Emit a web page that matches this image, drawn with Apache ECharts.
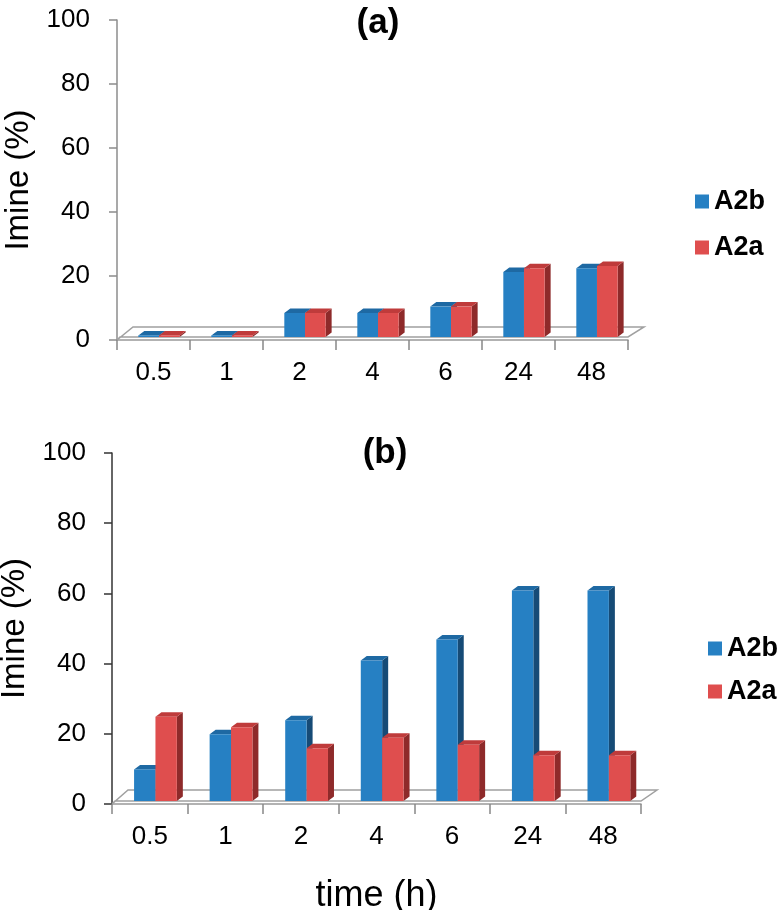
<!DOCTYPE html>
<html>
<head>
<meta charset="utf-8">
<script src="https://cdn.jsdelivr.net/npm/echarts@6/dist/echarts.min.js"></script>
<style>
html,body{margin:0;padding:0;background:#fff;}
#chart{width:777px;height:910px;}
</style>
</head>
<body>
<div id="chart"></div>
<script>
// ---- data ----
const categories = ['0.5', '1', '2', '4', '6', '24', '48'];
const seriesNames = ['A2b', 'A2a'];
const panelA_A2b = [0.5, 0.5, 7.5, 7.5, 9.5, 20.3, 21.5];
const panelA_A2a = [0.5, 0.5, 7.5, 7.5, 9.5, 21.5, 22.2];
const panelB_A2b = [9, 19, 23, 40, 46, 60, 60];
const panelB_A2a = [24, 21, 15, 18, 16, 13, 13];
const yTicks = [0, 20, 40, 60, 80, 100];
const panelTitles = ['(a)', '(b)'];
const yAxisName = 'Imine (%)';
const xAxisName = 'time (h)';

// ---- styles ----
const FONT = "'Liberation Sans', Arial, sans-serif";
const palette = [
  {front: '#2680C3', top: '#1E69A3', side: '#164B76'},
  {front: '#DF4E4E', top: '#BF3B3B', side: '#8E2A2A'}
];

function barRenderer(side) {
  return function (params, api) {
    const i = api.value(0), v = api.value(1);
    const p0 = api.coord([i, 0]);
    const p1 = api.coord([i, v]);
    const catW = api.size([1, 0])[0];
    const w = catW * 0.283;
    const ox = catW * 0.075, oy = -3;
    const bx = 6, by = -4.5;
    const x0 = p0[0] + ox + (side === 0 ? -w : 0);
    const x1 = x0 + w;
    const yb = p0[1] + oy, yt = p1[1] + oy;
    const c = palette[side];
    return {
      type: 'group',
      children: [
        {type: 'polygon', shape: {points: [[x1, yb], [x1 + bx, yb + by], [x1 + bx, yt + by], [x1, yt]]}, style: {fill: c.side}},
        {type: 'polygon', shape: {points: [[x0, yt], [x0 + bx, yt + by], [x1 + bx, yt + by], [x1, yt]]}, style: {fill: c.top}},
        {type: 'rect', shape: {x: x0, y: yt, width: w, height: Math.max(yb - yt, 0.5)}, style: {fill: c.front}}
      ]
    };
  };
}

function floorRenderer(dy) {
  return function (params, api) {
    const cs = params.coordSys;
    const x0 = cs.x, x1 = cs.x + cs.width, y0 = cs.y + cs.height;
    const dx = 16;
    return {
      type: 'group',
      children: [
        {type: 'polygon', shape: {points: [[x0, y0], [x0 + dx, y0 + dy], [x1 + dx, y0 + dy], [x1, y0 - 3], [x0 + 3, y0 - 3]]},
         style: {fill: '#ffffff', stroke: '#a0a0a0', lineWidth: 1.5}}
      ]
    };
  };
}

const grids = [
  {left: 117, top: 20, width: 511, height: 320, containLabel: false, outerBoundsMode: 'none'},
  {left: 112, top: 453, width: 529, height: 351, containLabel: false, outerBoundsMode: 'none'}
];

function yAxisCfg(gi, lineColor, gap, margin) {
  return {
    type: 'value', gridIndex: gi, min: 0, max: 100, interval: 20,
    name: yAxisName, nameLocation: 'middle', nameGap: gap,
    nameTextStyle: {fontFamily: FONT, fontSize: 33, color: '#000'},
    axisLine: {show: true, lineStyle: {color: lineColor, width: 1.5}},
    axisTick: {show: true, length: 8, lineStyle: {color: lineColor, width: 1.5}},
    axisLabel: {fontFamily: FONT, fontSize: 26, color: '#000', margin: margin},
    splitLine: {show: false}
  };
}
function xAxisCfg(gi, withName) {
  const c = {
    type: 'category', gridIndex: gi, data: categories, boundaryGap: true,
    axisLine: {show: true, lineStyle: {color: '#999', width: 1.5}},
    axisTick: {show: true, length: 10, alignWithLabel: false, lineStyle: {color: '#888', width: 1.5}},
    axisLabel: {fontFamily: FONT, fontSize: 26, color: '#000', margin: 20},
    splitLine: {show: false}
  };
  if (withName) {
    c.name = xAxisName; c.nameLocation = 'middle'; c.nameGap = 74;
    c.nameTextStyle = {fontFamily: FONT, fontSize: 36, color: '#000'};
  }
  return c;
}

function toPairs(arr) { return arr.map((v, i) => [i, v]); }

const option = {
  animation: false,
  backgroundColor: '#fff',
  title: [
    {text: panelTitles[0], left: 373, top: 1, textAlign: 'center',
     textStyle: {fontFamily: FONT, fontSize: 35, fontWeight: 'bold', color: '#000'}},
    {text: panelTitles[1], left: 380, top: 431, textAlign: 'center',
     textStyle: {fontFamily: FONT, fontSize: 35, fontWeight: 'bold', color: '#000'}}
  ],
  legend: [
    {data: seriesNames, orient: 'vertical', left: 695, top: 188, padding: 0, itemWidth: 14, itemHeight: 14, itemGap: 19, icon: 'rect',
     textStyle: {fontFamily: FONT, fontSize: 27, fontWeight: 'bold', color: '#000', padding: [0, 0, 0, 0]}},
    {data: seriesNames, orient: 'vertical', left: 708, top: 635, padding: 0, itemWidth: 14, itemHeight: 14, itemGap: 16, icon: 'rect',
     textStyle: {fontFamily: FONT, fontSize: 27, fontWeight: 'bold', color: '#000', padding: [0, 0, 0, 0]}}
  ],
  grid: grids,
  xAxis: [xAxisCfg(0, false), xAxisCfg(1, true)],
  yAxis: [yAxisCfg(0, '#8c8c8c', 80, 27), yAxisCfg(1, '#333', 77, 26)],
  series: [
    {type: 'custom', name: 'floorA', xAxisIndex: 0, yAxisIndex: 0, z: 1, data: [[0, 0]], renderItem: floorRenderer(-13), silent: true},
    {type: 'custom', name: 'floorB', xAxisIndex: 1, yAxisIndex: 1, z: 1, data: [[0, 0]], renderItem: floorRenderer(-14), silent: true},
    {type: 'custom', name: seriesNames[0], xAxisIndex: 0, yAxisIndex: 0, z: 3, data: toPairs(panelA_A2b),
     itemStyle: {color: palette[0].front}, encode: {x: 0, y: 1}, renderItem: barRenderer(0)},
    {type: 'custom', name: seriesNames[1], xAxisIndex: 0, yAxisIndex: 0, z: 3, data: toPairs(panelA_A2a),
     itemStyle: {color: palette[1].front}, encode: {x: 0, y: 1}, renderItem: barRenderer(1)},
    {type: 'custom', name: seriesNames[0], xAxisIndex: 1, yAxisIndex: 1, z: 3, data: toPairs(panelB_A2b),
     itemStyle: {color: palette[0].front}, encode: {x: 0, y: 1}, renderItem: barRenderer(0)},
    {type: 'custom', name: seriesNames[1], xAxisIndex: 1, yAxisIndex: 1, z: 3, data: toPairs(panelB_A2a),
     itemStyle: {color: palette[1].front}, encode: {x: 0, y: 1}, renderItem: barRenderer(1)}
  ]
};

const chart = echarts.init(document.getElementById('chart'), null, {renderer: 'canvas'});
chart.setOption(option);
</script>
</body>
</html>
